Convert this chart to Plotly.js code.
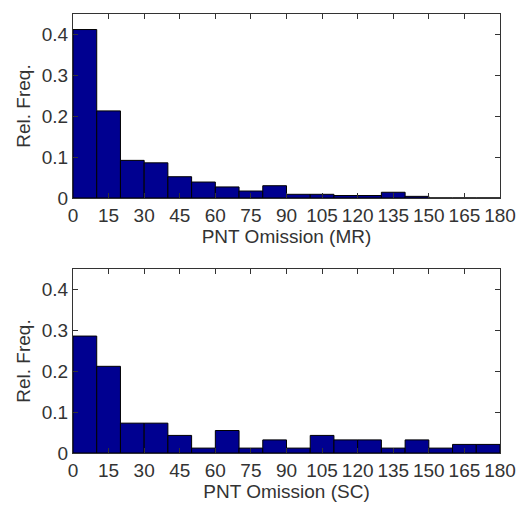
<!DOCTYPE html>
<html>
<head>
<meta charset="utf-8">
<script src="https://cdn.plot.ly/plotly-3.0.1.min.js"></script>
<style>html,body{margin:0;padding:0;background:#fff;}#chart{width:524px;height:506px;}</style>
</head>
<body>
<div id="chart"></div>
<script>
// Bin centres (bins of width 10 from 0 to 180)
const binCenters = [5,15,25,35,45,55,65,75,85,95,105,115,125,135,145,155,165,175];
const binWidths  = [10,10,10,10,10,10,10,10,10,10,10,10,10,10,10,10,10,10];
// Relative frequencies, MR
const freqMR = [0.412,0.213,0.092,0.086,0.052,0.039,0.027,0.017,0.030,0.009,0.009,0.006,0.006,0.014,0.004,0,0,0];
// Relative frequencies, SC
const freqSC = [0.286,0.212,0.073,0.073,0.043,0.012,0.055,0.012,0.032,0.012,0.043,0.032,0.032,0.012,0.032,0.012,0.021,0.021];
const xTicks = [0,15,30,45,60,75,90,105,120,135,150,165,180];
const yTicks = [0,0.1,0.2,0.3,0.4];
const yTickText = ['0','0.1','0.2','0.3','0.4'];
const xTitleMR = 'PNT Omission (MR)';
const xTitleSC = 'PNT Omission (SC)';
const yTitle = 'Rel. Freq.';

const barColor = 'rgb(0,0,144)';
const font = {family:'Liberation Sans, Arial, sans-serif', size:19, color:'#333'};

const traces = [
  {type:'bar', x:binCenters, y:freqMR, width:binWidths, xaxis:'x', yaxis:'y',
   marker:{color:barColor, line:{color:'#000', width:1}}, showlegend:false, hoverinfo:'skip'},
  {type:'bar', x:binCenters, y:freqSC, width:binWidths, xaxis:'x2', yaxis:'y2',
   marker:{color:barColor, line:{color:'#000', width:1}}, showlegend:false, hoverinfo:'skip'}
];

function xAxis(title, anchor){
  return {anchor:anchor, range:[0,180], tickvals:xTicks, ticktext:xTicks.map(String),
    ticks:'inside', ticklen:5, tickcolor:'#333', showline:true, linecolor:'#333', linewidth:1,
    mirror:'ticks', showgrid:false, zeroline:false, tickfont:font, ticklabelstandoff:0,
    title:{text:title, font:font, standoff:2}};
}
function yAxis(domain, anchor){
  return {anchor:anchor, domain:domain, range:[0,0.45], tickvals:yTicks, ticktext:yTickText,
    ticks:'inside', ticklen:5, tickcolor:'#333', showline:true, linecolor:'#333', linewidth:1,
    mirror:'ticks', showgrid:false, zeroline:false, tickfont:font,
    title:{text:yTitle, font:font, standoff:6}};
}

const layout = {
  width:524, height:506,
  margin:{l:73, r:24, t:14, b:53},
  paper_bgcolor:'#fff', plot_bgcolor:'#fff',
  bargap:0,
  xaxis: xAxis(xTitleMR, 'y'),
  yaxis: yAxis([0.5809,1], 'x'),
  xaxis2: xAxis(xTitleSC, 'y2'),
  yaxis2: yAxis([0,0.4191], 'x2'),
  font:font
};

Plotly.newPlot('chart', traces, layout, {staticPlot:true, displayModeBar:false});
</script>
</body>
</html>
